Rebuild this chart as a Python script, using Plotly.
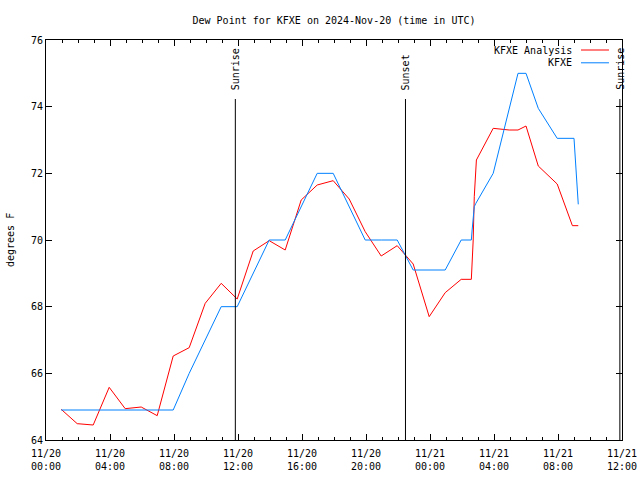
import plotly.graph_objects as go

# ---- data ----
analysis_times = [
    "2024-11-20 00:57", "2024-11-20 01:57", "2024-11-20 02:57", "2024-11-20 03:57",
    "2024-11-20 04:57", "2024-11-20 05:57", "2024-11-20 06:57", "2024-11-20 07:57",
    "2024-11-20 08:57", "2024-11-20 09:57", "2024-11-20 10:57", "2024-11-20 11:57",
    "2024-11-20 12:57", "2024-11-20 13:57", "2024-11-20 14:57", "2024-11-20 15:57",
    "2024-11-20 16:57", "2024-11-20 17:57", "2024-11-20 18:57", "2024-11-20 19:57",
    "2024-11-20 20:57", "2024-11-20 21:57", "2024-11-20 22:57", "2024-11-20 23:57",
    "2024-11-21 00:57", "2024-11-21 01:57", "2024-11-21 02:35", "2024-11-21 02:38",
    "2024-11-21 02:42", "2024-11-21 02:46", "2024-11-21 02:54", "2024-11-21 03:57",
    "2024-11-21 04:57", "2024-11-21 05:30", "2024-11-21 06:00", "2024-11-21 06:46",
    "2024-11-21 07:57", "2024-11-21 08:54", "2024-11-21 09:16",
]
analysis_dewpt = [
    64.92, 64.49, 64.45, 65.58, 64.94, 64.99, 64.73, 66.52,
    66.77, 68.10, 68.70, 68.23, 69.67, 69.98, 69.70, 71.20,
    71.65, 71.78, 71.23, 70.25, 69.52, 69.83, 69.28, 67.70,
    68.42, 68.82, 68.82, 69.20, 70.00, 71.30, 72.40, 73.35,
    73.30, 73.30, 73.42, 72.22, 71.68, 70.43, 70.43,
]

obs_times = [
    "2024-11-20 00:57", "2024-11-20 01:57", "2024-11-20 02:57", "2024-11-20 03:57",
    "2024-11-20 04:57", "2024-11-20 05:57", "2024-11-20 06:57", "2024-11-20 07:57",
    "2024-11-20 08:57", "2024-11-20 09:57", "2024-11-20 10:57", "2024-11-20 11:57",
    "2024-11-20 12:57", "2024-11-20 13:57", "2024-11-20 14:57", "2024-11-20 15:57",
    "2024-11-20 16:57", "2024-11-20 17:57", "2024-11-20 18:57", "2024-11-20 19:57",
    "2024-11-20 20:57", "2024-11-20 21:57", "2024-11-20 22:57", "2024-11-20 23:57",
    "2024-11-21 00:57", "2024-11-21 01:57", "2024-11-21 02:35", "2024-11-21 02:38",
    "2024-11-21 02:42", "2024-11-21 02:46", "2024-11-21 02:52", "2024-11-21 03:57",
    "2024-11-21 05:30", "2024-11-21 06:00", "2024-11-21 06:46", "2024-11-21 07:57",
    "2024-11-21 09:00", "2024-11-21 09:16",
]
obs_dewpt = [
    64.9, 64.9, 64.9, 64.9, 64.9, 64.9, 64.9, 64.9,
    66.0, 67.0, 68.0, 68.0, 69.0, 70.0, 70.0, 71.0,
    72.0, 72.0, 71.0, 70.0, 70.0, 70.0, 69.1, 69.1,
    69.1, 70.0, 70.0, 70.3, 70.6, 71.0, 71.1, 72.0,
    75.0, 75.0, 73.95, 73.05, 73.05, 71.07,
]

sun_event_times = ["2024-11-20 11:50", "2024-11-20 22:28", "2024-11-21 11:52"]
sun_event_labels = ["Sunrise", "Sunset", "Sunrise"]

series_names = ["KFXE Analysis", "KFXE"]
series_colors = ["#ff0000", "#0080ff"]

FONT = "DejaVu Sans Mono"

fig = go.Figure()
fig.add_trace(go.Scatter(x=analysis_times, y=analysis_dewpt, mode="lines",
                         name=series_names[0],
                         line=dict(color=series_colors[0], width=1)))
fig.add_trace(go.Scatter(x=obs_times, y=obs_dewpt, mode="lines",
                         name=series_names[1],
                         line=dict(color=series_colors[1], width=1)))

# sunrise / sunset markers
for t, lab in zip(sun_event_times, sun_event_labels):
    fig.add_shape(type="line", xref="x", yref="paper", x0=t, x1=t, y0=0, y1=0.8525,
                  line=dict(color="black", width=1))
    fig.add_annotation(x=t, xref="x", y=0.87, yref="paper", text=lab, textangle=-90,
                       showarrow=False, xanchor="center", yanchor="bottom",
                       font=dict(family=FONT, size=10, color="black"))

# gnuplot-style legend (text left of sample line)
legend_y = [0.975, 0.943]
for name, col, ly in zip(series_names, series_colors, legend_y):
    fig.add_annotation(x=0.9167, xref="paper", y=ly, yref="paper", text=name,
                       showarrow=False, xanchor="right", yanchor="middle",
                       font=dict(family=FONT, size=10, color="black"))
    fig.add_shape(type="line", xref="paper", yref="paper", x0=0.9288, x1=0.9774,
                  y0=ly, y1=ly, line=dict(color=col, width=1))

# y-axis title
fig.add_annotation(x=-0.0625, xref="paper", y=0.5, yref="paper", text="degrees F",
                   textangle=-90, showarrow=False, xanchor="center", yanchor="middle",
                   font=dict(family=FONT, size=10, color="black"))

fig.update_layout(
    width=640, height=480,
    margin=dict(l=46, r=18, t=40, b=40, autoexpand=False),
    paper_bgcolor="white", plot_bgcolor="white",
    showlegend=False,
    font=dict(family=FONT, size=10, color="black"),
    title=dict(text="Dew Point for KFXE on 2024-Nov-20 (time in UTC)",
               x=0.5, xref="paper", xanchor="center",
               y=1 - 20 / 480, yref="container", yanchor="middle",
               font=dict(family=FONT, size=10, color="black")),
)
fig.update_xaxes(
    type="date", automargin=False,
    range=["2024-11-20 00:00", "2024-11-21 12:00"],
    dtick=4 * 3600 * 1000, tick0="2024-11-20 00:00",
    tickformat="%m/%d<br>%H:%M",
    ticks="inside", ticklen=6, tickcolor="black", tickwidth=1,
    ticklabelstandoff=4,
    minor=dict(dtick=3600 * 1000, ticks="inside", ticklen=3, tickcolor="black"),
    showline=True, linecolor="black", linewidth=1, mirror="ticks",
    showgrid=False, zeroline=False,
    tickfont=dict(family=FONT, size=10, color="black"),
)
fig.update_yaxes(
    automargin=False,
    range=[64, 76], dtick=2,
    ticks="inside", ticklen=6, tickcolor="black", tickwidth=1,
    showline=True, linecolor="black", linewidth=1, mirror="ticks",
    showgrid=False, zeroline=False,
    tickfont=dict(family=FONT, size=10, color="black"),
)

fig.write_html("out.html",
               config={"displayModeBar": False},
               post_script="document.body.style.margin='0';document.body.style.overflow='hidden';")
